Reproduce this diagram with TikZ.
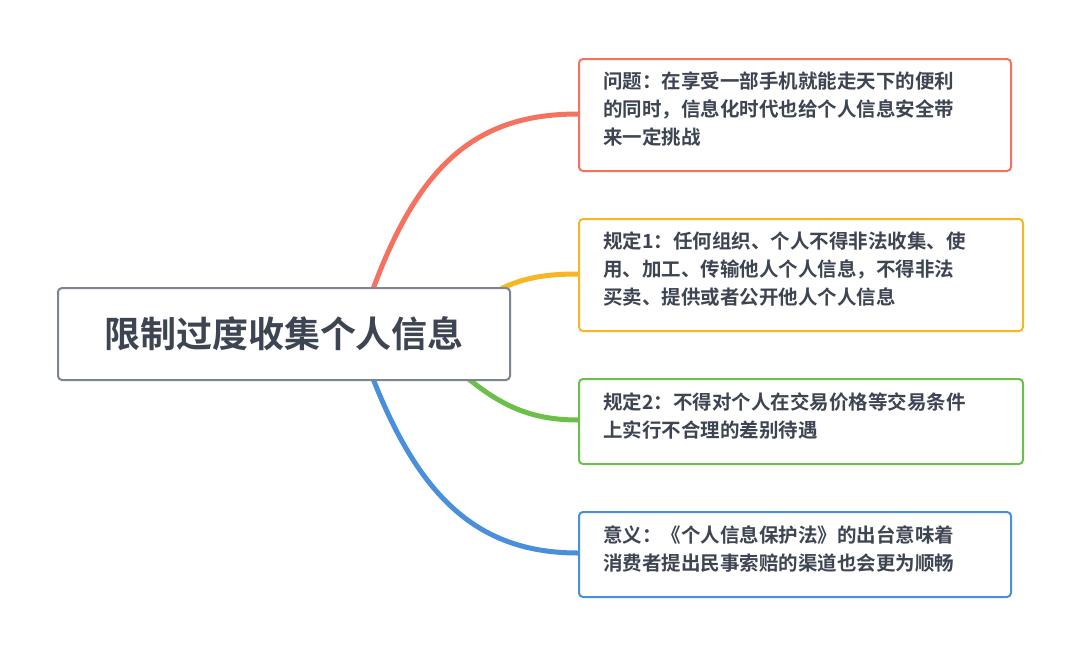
\documentclass[tikz,border=0pt]{standalone}
\usepackage{fontspec}
\newfontfamily\cjk{Noto Sans CJK SC}[BoldFont={Noto Sans CJK SC Bold}]
\definecolor{cred}{HTML}{F4725F}
\definecolor{cyel}{HTML}{F7B623}
\definecolor{cgrn}{HTML}{6CC04A}
\definecolor{cblu}{HTML}{4A8FDB}
\definecolor{cgry}{HTML}{7D8593}
\definecolor{ctxt}{HTML}{3E4552}
\begin{document}
\begin{tikzpicture}[x=1pt,y=-1pt,
  box/.style={draw,line width=2pt,rounded corners=4pt,fill=white,anchor=north west,align=left,inner sep=0pt,
     font=\cjk\bfseries\fontsize{19.5}{28}\selectfont,text=ctxt},
  txt/.style={anchor=north west,inner sep=0pt,align=left,font=\cjk\bfseries\fontsize{19.5}{28}\selectfont,text=ctxt},
  branch/.style={line width=5pt,line cap=round}]
\useasboundingbox[fill=white] (0,0) rectangle (1080,654);
\coordinate (s1) at (372,292);
\coordinate (s2) at (495,292);
\coordinate (s3) at (465,376);
\coordinate (s4) at (372,376);
\draw[branch,cred] (s1) .. controls (420,160) and (480,114) .. (578,114);
\draw[branch,cyel] (s2) .. controls (520,278) and (545,274) .. (578,274);
\draw[branch,cgrn] (s3) .. controls (500,405) and (530,420) .. (578,420);
\draw[branch,cblu] (s4) .. controls (420,500) and (480,553) .. (578,553);
\node[box,draw=cgry,minimum width=452pt,minimum height=92pt,align=center,anchor=center,
  font=\cjk\bfseries\fontsize{36}{40}\selectfont] (c) at (284,334) {限制过度收集个人信息};
\node[box,draw=cred,minimum width=432pt,minimum height=112pt] (b1) at (578,58) {};
\node[txt] (t1) at (603,72)
  {问题：在享受一部手机就能走天下的便利\\的同时，信息化时代也给个人信息安全带\\来一定挑战};
\node[box,draw=cyel,minimum width=444pt,minimum height=112pt] (b2) at (578,218) {};
\node[txt] (t2) at (603,232)
  {规定1：任何组织、个人不得非法收集、使\\用、加工、传输他人个人信息，不得非法\\买卖、提供或者公开他人个人信息};
\node[box,draw=cgrn,minimum width=444pt,minimum height=85pt] (b3) at (578,378) {};
\node[txt] (t3) at (603,392)
  {规定2：不得对个人在交易价格等交易条件\\上实行不合理的差别待遇};
\node[box,draw=cblu,minimum width=432pt,minimum height=85pt] (b4) at (578,511) {};
\node[txt] (t4) at (603,525)
  {意义：《个人信息保护法》的出台意味着\\消费者提出民事索赔的渠道也会更为顺畅};
\end{tikzpicture}
\end{document}
